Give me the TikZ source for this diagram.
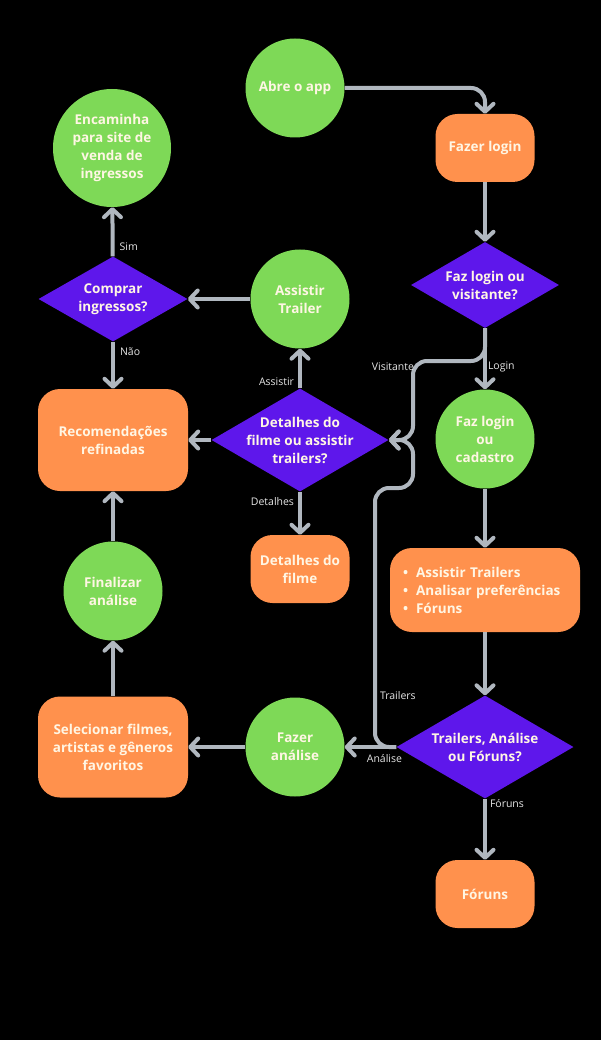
\documentclass[tikz,border=0pt]{standalone}
\usepackage{fontspec}
\setmainfont{Open Sans}
\usetikzlibrary{shapes.geometric,arrows.meta,positioning}

\definecolor{verde}{HTML}{7ED957}
\definecolor{laranja}{HTML}{FF914D}
\definecolor{roxo}{HTML}{5E17EB}
\definecolor{seta}{HTML}{B0B7BF}
\definecolor{creme}{HTML}{FFF6E4}
\definecolor{cinza}{HTML}{E6E6E6}

\tikzset{
  txt/.style={font=\bfseries\fontsize{13.5}{18}\selectfont, text=creme, align=center, inner sep=0pt},
  state/.style={txt, circle, fill=verde, minimum size=99pt},
  process/.style={txt, rectangle, rounded corners=22pt, fill=laranja, minimum width=99pt, minimum height=68pt},
  decision/.style={diamond, fill=roxo, minimum width=177pt, minimum height=103pt, inner sep=0pt},
  rotulo/.style={font=\fontsize{10.5}{12}\selectfont, text=cinza, inner sep=0pt},
  flow/.style={draw=seta, line width=4pt, rounded corners=14pt, -{Straight Barb[length=8pt,width=17pt,round]}}
}

\begin{document}
\begin{tikzpicture}[x=1pt, y=-1pt, node distance=150pt]
    \fill[black] (0,0) rectangle (601,1040);
    \useasboundingbox (0,0) rectangle (601,1040);

    % coluna da direita
    \node[state]     (abre)     at (295,88)                       {Abre o app};
    \node[process]   (login)    at (485,148)                      {Fazer login};
    \node[decision, minimum width=148pt, minimum height=86pt,
          label={[txt, anchor=center]center:Faz login ou\\visitante?}]
                     (visit)    at (485,285)                      {};
    \node[state]     (cadastro) [below of=visit, node distance=154pt] {Faz login\\ou\\cadastro};
    \node[process, minimum width=190pt, minimum height=84pt, text width=164pt, align=left]
                     (menu)     [below of=cadastro, node distance=151pt]
                     {•\hspace{8pt}Assistir Trailers\\•\hspace{8pt}Analisar preferências\\•\hspace{8pt}Fóruns};
    \node[decision, label={[txt, anchor=center]center:Trailers, Análise\\ou Fóruns?}]
                     (escolha)  [below of=menu, node distance=157pt] {};
    \node[process]   (foruns)   [below of=escolha, node distance=147pt] {Fóruns};

    % coluna do meio
    \node[state]     (trailer)  at (300,299)                      {Assistir\\Trailer};
    \node[decision, label={[txt, anchor=center]center:Detalhes do\\filme ou assistir\\trailers?}]
                     (detdec)   [below of=trailer, node distance=141pt] {};
    \node[process]   (detfilme) [below of=detdec, node distance=129pt] {Detalhes do\\filme};
    \node[state]     (analise)  [left of=escolha, node distance=190pt] {Fazer\\análise};

    % coluna da esquerda
    \node[state, minimum size=118pt] (encaminha) at (112,148)     {Encaminha\\para site de\\venda de\\ingressos};
    \node[decision, minimum width=149pt, minimum height=85pt,
          label={[txt, anchor=center]center:Comprar\\ingressos?}]
                     (comprar)  at (113,299)                      {};
    \node[process, minimum width=150pt, minimum height=102pt]
                     (recom)    [below of=comprar, node distance=141pt] {Recomendações\\refinadas};
    \node[state]     (finalizar) [below of=recom, node distance=151pt] {Finalizar\\análise};
    \node[process, minimum width=150pt, minimum height=101pt]
                     (selec)    [below of=finalizar, node distance=156pt] {Selecionar filmes,\\artistas e gêneros\\favoritos};

    \draw[flow] (abre.east) -| (login.north);
    \path[flow] (login)    edge (visit)
                (visit)    edge node[rotulo, pos=0.63, anchor=west, xshift=1pt] {Login} (cadastro)
                (cadastro) edge (menu)
                (menu)     edge (escolha)
                (escolha)  edge node[rotulo, pos=0.08, anchor=west, xshift=3pt] {Fóruns} (foruns)
                           edge node[rotulo, pos=0.23, below, yshift=-5pt] {Análise} (analise)
                (analise)  edge (selec)
                (selec)    edge (finalizar)
                (finalizar) edge (recom)
                (detdec)   edge (recom)
                           edge node[rotulo, pos=0.17, anchor=east, xshift=-4pt] {Assistir} (trailer)
                           edge node[rotulo, pos=0.23, anchor=east, xshift=-4pt] {Detalhes} (detfilme)
                (trailer)  edge (comprar)
                (comprar)  edge node[rotulo, pos=0.2, anchor=west, xshift=5pt] {Sim} (encaminha)
                           edge node[rotulo, pos=0.21, anchor=west, xshift=5pt] {Não} (recom);

    % visitante e trailers entram pelo mesmo ponto
    \draw[flow] (visit.south) -- (485,361) -- (413,361)
                -- node[rotulo, pos=0.07, anchor=east, xshift=3pt] {Visitante} (413,440) -- (detdec.east);
    \draw[flow] (escolha.west) -- (375,747)
                -- node[rotulo, pos=0.2, anchor=west, xshift=3pt] {Trailers} (375,488)
                -- (413,488) -- (413,440) -- (detdec.east);
\end{tikzpicture}
\end{document}
